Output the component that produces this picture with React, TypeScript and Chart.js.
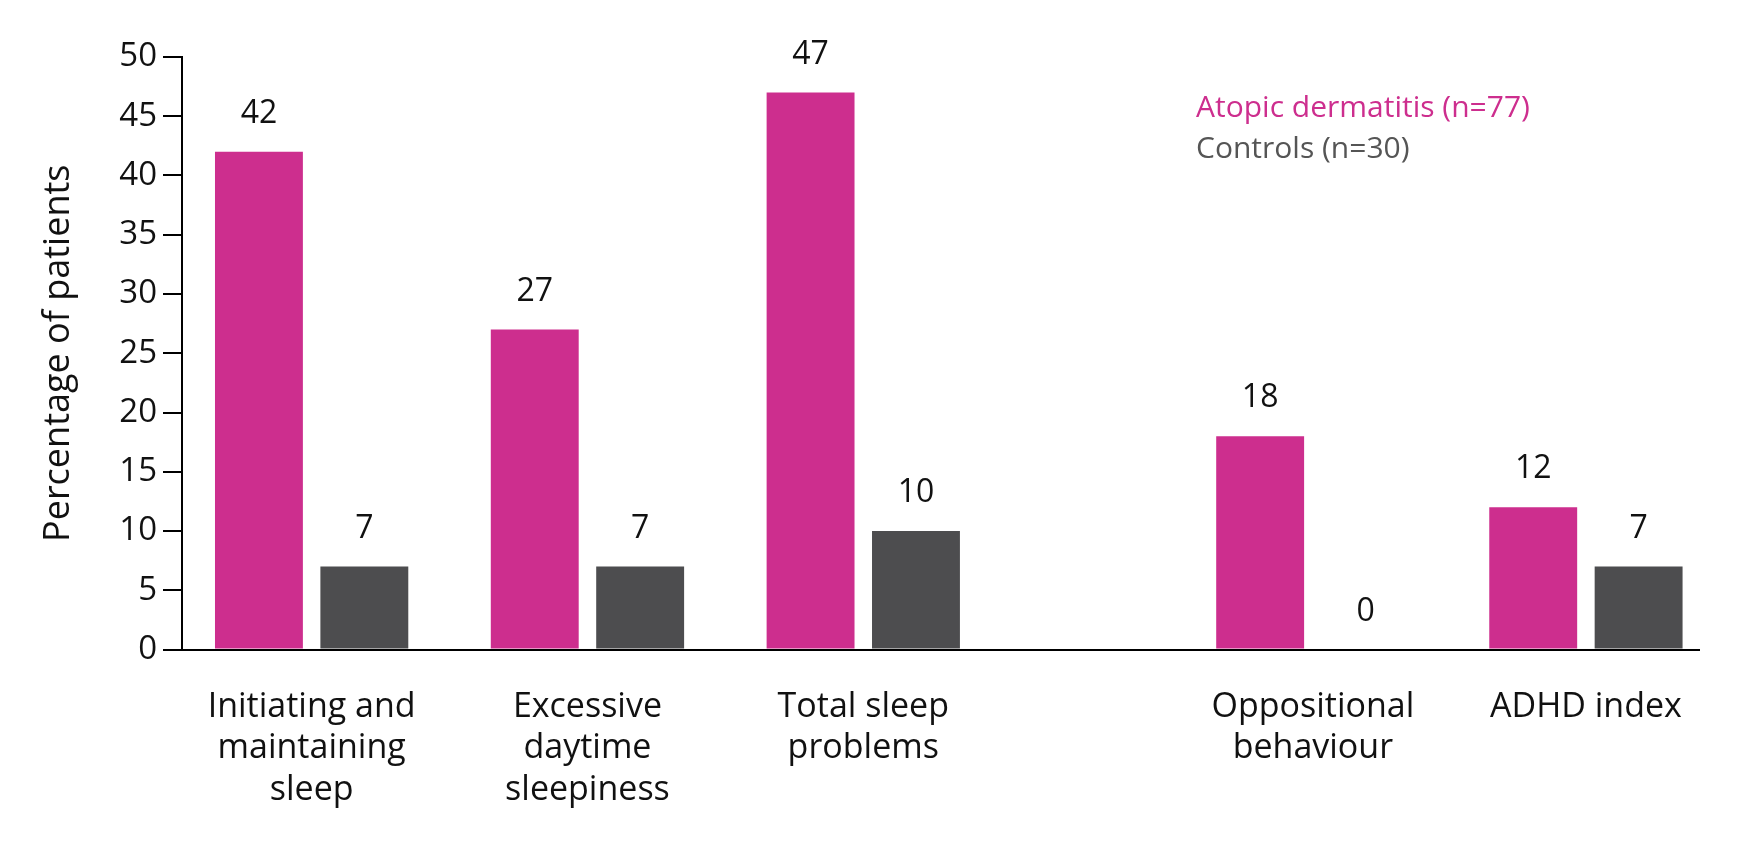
import React, { useEffect, useRef } from "react";
import { Chart, registerables } from "chart.js";

Chart.register(...registerables);

// ---- Data ----
const categories: string[][] = [
  ["Initiating and", "maintaining", "sleep"],
  ["Excessive", "daytime", "sleepiness"],
  ["Total sleep", "problems"],
  ["Oppositional", "behaviour"],
  ["ADHD index"],
];
const atopicValues = [42, 27, 47, 18, 12];
const controlValues = [7, 7, 10, 0, 7];
const seriesLabels = ["Atopic dermatitis (n=77)", "Controls (n=30)"];
const yTickValues = [0, 5, 10, 15, 20, 25, 30, 35, 40, 45, 50];
const yAxisTitle = "Percentage of patients";

// ---- Layout (group slots along the axis; gap before behaviour measures) ----
const groupSlots = [0, 1, 2, 3.63, 4.62];

const PINK = "#CD2E8E";
const GRAY = "#4D4D4F";
const LEGEND_GRAY = "#555555";
const TEXT = "#111111";
const FONT = "'Open Sans', 'Noto Sans', sans-serif";

const valueLabelPlugin = {
  id: "valueLabels",
  afterDatasetsDraw(chart: any) {
    const ctx = chart.ctx;
    ctx.save();
    ctx.font = `400 32px ${FONT}`;
    ctx.fillStyle = TEXT;
    ctx.textAlign = "center";
    ctx.textBaseline = "middle";
    chart.data.datasets.forEach((ds: any, di: number) => {
      const meta = chart.getDatasetMeta(di);
      meta.data.forEach((el: any, i: number) => {
        const v = ds.data[i].y;
        ctx.fillText(String(v), el.x, el.y - 38);
      });
    });
    ctx.restore();
  },
};

const textLegendPlugin = {
  id: "textLegend",
  afterDraw(chart: any) {
    const ctx = chart.ctx;
    const colors = [PINK, LEGEND_GRAY];
    ctx.save();
    ctx.font = `400 30px ${FONT}`;
    ctx.textAlign = "left";
    ctx.textBaseline = "middle";
    chart.data.datasets.forEach((ds: any, di: number) => {
      ctx.fillStyle = colors[di];
      ctx.fillText(ds.label, 1196, 108 + di * 41);
    });
    ctx.restore();
  },
};

export default function App() {
  const canvasRef = useRef<HTMLCanvasElement | null>(null);

  useEffect(() => {
    const canvas = canvasRef.current;
    if (!canvas) return;
    const chart = new Chart(canvas, {
      type: "bar",
      data: {
        datasets: [
          {
            label: seriesLabels[0],
            data: groupSlots.map((x, i) => ({ x, y: atopicValues[i] })),
            backgroundColor: PINK,
            categoryPercentage: 0.772,
            barPercentage: 0.834,
          },
          {
            label: seriesLabels[1],
            data: groupSlots.map((x, i) => ({ x, y: controlValues[i] })),
            backgroundColor: GRAY,
            categoryPercentage: 0.772,
            barPercentage: 0.834,
          },
        ],
      },
      options: {
        animation: false,
        responsive: false,
        maintainAspectRatio: false,
        layout: { padding: { top: 57, right: 57, bottom: 0, left: 0 } },
        plugins: {
          legend: { display: false },
          tooltip: { enabled: false },
        },
        scales: {
          x: {
            type: "linear",
            offset: false,
            min: -0.47,
            max: 5.03,
            afterBuildTicks: (scale: any) => {
              scale.ticks = groupSlots.map((v) => ({ value: v }));
            },
            afterFit: (scale: any) => {
              scale.height = 202.5;
            },
            grid: { display: true, offset: false, drawOnChartArea: false, drawTicks: false },
            border: { display: true, color: "#000", width: 2 },
            ticks: {
              autoSkip: false,
              maxRotation: 0,
              minRotation: 0,
              padding: 37,
              color: TEXT,
              font: { family: FONT, size: 34, lineHeight: 1.22 },
              callback: (_v: any, index: number) => categories[index],
            },
          },
          y: {
            type: "linear",
            min: 0,
            max: 50,
            afterBuildTicks: (scale: any) => {
              scale.ticks = yTickValues.map((v) => ({ value: v }));
            },
            afterFit: (scale: any) => {
              scale.width = 182;
            },
            grid: {
              display: true,
              drawOnChartArea: false,
              drawTicks: true,
              tickLength: 19,
              color: "#000",
              lineWidth: 2,
            },
            border: { display: true, color: "#000", width: 2 },
            ticks: {
              padding: 6,
              color: TEXT,
              font: { family: FONT, size: 33 },
            },
            title: {
              display: true,
              text: yAxisTitle,
              color: TEXT,
              font: { family: FONT, size: 36, lineHeight: 1.2 },
              padding: { top: 37, bottom: 0 },
            },
          },
        },
      },
      plugins: [valueLabelPlugin, textLegendPlugin],
    } as any);
    return () => chart.destroy();
  }, []);

  return (
    <div style={{ position: "fixed", left: 0, top: 0, width: 1756, height: 852, background: "#fff" }}>
      <canvas ref={canvasRef} width={1756} height={852} style={{ width: 1756, height: 852, display: "block" }} />
    </div>
  );
}
